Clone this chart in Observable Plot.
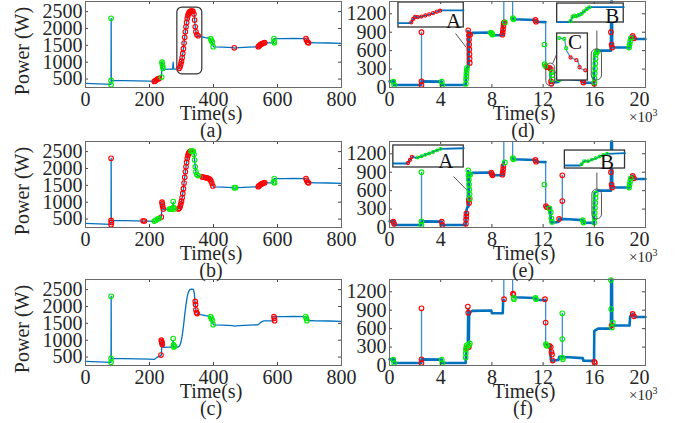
<!DOCTYPE html>
<html><head><meta charset="utf-8">
<script src="https://cdn.jsdelivr.net/npm/d3@7"></script>
<script src="https://cdn.jsdelivr.net/npm/@observablehq/plot@0.6"></script>
<style>
body{margin:0;background:#fff;}
#root{position:relative;width:678px;height:423px;overflow:hidden;font-family:"Liberation Serif","Times New Roman",serif;color:#262626;}
.lbl{position:absolute;transform:translate(-50%,-50%);font-size:20px;white-space:nowrap;line-height:16px;}
.rot{transform:translate(-50%,-50%) rotate(-90deg);}
.exp{position:absolute;font-size:15px;white-space:nowrap;line-height:14px;}
.panel{position:absolute;}
</style></head><body><div id="root"></div>
<script>
// ---------- tick labels ----------
const leftXTicks = [0, 200, 400, 600, 800];
const leftYTicks = [500, 1000, 1500, 2000, 2500];
const rightXTicks = [0, 4, 8, 12, 16, 20];
const rightYTicks = [0, 300, 600, 900, 1200];
const panelNames = ["(a)", "(b)", "(c)", "(d)", "(e)", "(f)"];

// ---------- left column: power trace (time s, power W) ----------
const leftTrace = [[0,370],[40,360],[79,345],[79.8,345],[80.2,2300],[80.6,460],[120,455],[160,448],[200,440],[214,430],[218,450],[222,480],[226,505],[232,520],[235,560],[237.5,560],[238.5,1000],[240,950],[241.5,800],[245,790],[260,792],[272.5,795],[274,1000],[275.5,800],[278,792],[288,795],[294,830],[298,930],[302,1120],[306,1400],[310,1750],[314,2050],[318,2300],[322,2440],[326,2500],[331,2515],[337,2505],[340,2400],[342,2150],[344,1950],[347,1830],[351,1790],[360,1760],[375,1730],[388,1710],[391,1680],[394,1620],[397,1530],[400,1455],[430,1450],[460,1432],[466,1420],[480,1432],[510,1445],[538,1455],[543,1490],[548,1530],[553,1560],[558,1575],[587,1575],[589,1700],[620,1700],[650,1705],[688,1700],[691,1660],[694,1585],[720,1575],[760,1570],[800,1560]];

const redA = [[215,430],[218,450],[222,480],[226,505],[230,520],[293,820],[296,870],[298,950],[300,1030],[302,1130],[304,1260],[306,1400],[308,1570],[310,1740],[312,1900],[314,2050],[316,2180],[318,2300],[320,2380],[322,2440],[324,2480],[327,2505],[330,2515],[333,2512],[336,2505],[339,2430],[341,2250],[343,2050],[345,1900],[348,1820],[352,1785],[465,1425],[540,1460],[543,1490],[546,1515],[549,1535],[552,1555],[556,1570],[560,1578],[689,1700],[691,1650],[694,1590],[697,1575]];
const greenA = [[80,2300],[80,460],[80,330],[238,560],[239,1000],[240,950],[241,880],[242,820],[391,1700],[393,1650],[396,1600],[399,1460],[589,1700],[589,1620],[590,1575]];

const redB = [[80,2300],[80,460],[80,330],[81,400],[180,450],[184,442],[237,560],[239,1000],[240,950],[241,880],[243,800],[290,800],[293,820],[296,870],[298,950],[300,1030],[302,1130],[304,1260],[306,1400],[308,1570],[310,1740],[312,1900],[314,2050],[316,2180],[318,2300],[320,2380],[322,2440],[324,2480],[327,2505],[365,1750],[370,1740],[375,1730],[380,1720],[385,1700],[389,1680],[392,1630],[395,1560],[398,1480],[540,1460],[543,1490],[546,1515],[549,1535],[552,1555],[556,1570],[560,1578],[689,1700],[691,1650],[694,1590],[697,1575]];
const greenB = [[215,440],[220,465],[225,500],[230,520],[262,795],[266,795],[270,795],[274,1020],[275,850],[277,800],[330,2515],[334,2512],[337,2505],[339,2420],[341,2250],[343,2050],[345,1900],[348,1820],[352,1790],[465,1430],[469,1430],[588,1600],[590,1700],[591,1575]];

const redC = [[236,560],[237,1000],[238,960],[239,920],[240,870],[343,2150],[344,2060],[345,1900],[347,1820],[349,1790],[589,1700],[590,1650],[591,1580]];
const greenC = [[80,2300],[80,460],[80,350],[274,1050],[275,860],[276,800],[278,820],[391,1700],[393,1650],[396,1600],[399,1460],[688,1700],[690,1650],[692,1580]];

// annotation box in (a): [t1, t2, p1, p2]
const boxA = [[287, 365, 640, 2620]];

// ---------- right column: power trace (time x10^3 s, power W) ----------
const rightTrace = [[0,100],[0.33,100],[0.35,40],[2.48,40],[2.5,100],[4.08,95],[4.1,40],[5.95,40],[5.97,150],[6.0,250],[6.03,300],[6.08,330],[6.12,330],[6.15,920],[6.17,340],[6.2,400],[6.22,800],[6.3,860],[6.45,890],[7.95,895],[8.0,850],[8.85,850],[8.88,1060],[8.95,1060],[9.3,NaN],[9.62,1130],[9.7,1110],[11.4,1100],[11.45,1070],[12.18,1065],[12.2,NaN],[12.22,350],[12.4,330],[12.55,320],[12.6,100],[12.65,80],[13.2,90],[13.25,140],[14.0,135],[15.1,120],[15.15,80],[15.98,75],[16.0,560],[16.1,575],[16.3,600],[17.3,600],[17.32,1400],[17.38,1400],[17.4,650],[18.75,650],[18.8,800],[19.0,840],[19.1,800],[19.3,790],[20,790]];
// thin spikes: [t, low, high]
const spikesD = [[2.5,40,900],[8.93,1060,1400],[9.62,1130,1400],[12.2,350,1065]];
const spikesEF = [[2.5,40,900],[8.93,1060,1400],[9.62,1130,1400],[12.2,350,1065],[13.5,100,850]];

const greenD = [[0.3,95],[0.36,40],[4.08,95],[4.12,40],[5.97,60],[5.98,130],[6.0,180],[6.01,230],[6.03,280],[6.05,320],[7.9,895],[8.0,880],[8.05,860],[9.02,1060],[9.64,1130],[9.68,1110],[12.1,700],[12.12,380],[12.18,350],[12.68,250],[12.72,200],[12.75,130],[13.25,135],[16.0,80],[16.02,150],[16.04,230],[16.06,310],[16.08,390],[16.1,470],[16.12,540],[16.18,575],[16.25,590],[18.72,650],[18.76,700],[18.8,750],[18.85,800]];
const redD = [[2.5,900],[2.5,100],[2.5,40],[6.15,930],[6.2,850],[6.22,780],[6.23,700],[6.24,620],[6.25,540],[6.26,470],[6.27,400],[6.3,860],[8.82,860],[8.85,900],[8.87,950],[8.9,1000],[8.93,1050],[8.96,1060],[11.4,1100],[11.45,1070],[12.22,350],[12.3,330],[12.5,320],[12.6,300],[12.62,100],[12.65,60],[15.1,120],[15.15,80],[16.0,60],[17.3,900],[17.35,700],[17.4,650],[19.0,840],[19.1,800]];

const redE = [[0.3,95],[0.36,60],[4.08,95],[4.12,40],[5.97,60],[5.98,130],[6.0,180],[6.01,230],[6.2,450],[6.22,400],[7.95,895],[8.0,870],[8.05,850],[8.82,860],[8.85,900],[8.88,950],[8.9,1000],[11.4,1100],[11.45,1070],[12.22,350],[12.3,330],[13.25,140],[13.5,850],[13.5,430],[17.3,900],[17.35,700],[17.4,650],[19.0,840],[19.1,800]];
const greenE = [[2.5,900],[2.5,100],[2.5,40],[6.15,930],[6.17,850],[6.2,780],[6.22,700],[6.24,620],[6.26,540],[6.28,470],[6.3,860],[9.02,1060],[9.64,1130],[9.68,1110],[12.1,700],[12.5,310],[12.6,250],[12.65,150],[12.7,90],[15.1,120],[15.15,80],[16.0,80],[16.02,160],[16.04,240],[16.06,320],[16.08,400],[16.1,480],[16.12,550],[18.72,650],[18.76,700],[18.8,750],[18.85,800]];

const greenF = [[0.3,95],[0.36,40],[4.08,95],[4.12,40],[5.95,130],[5.96,200],[5.97,260],[6.0,300],[6.03,330],[6.22,330],[6.28,360],[9.7,1100],[9.72,1080],[11.4,1100],[11.45,1080],[12.22,350],[12.26,330],[12.3,320],[13.5,850],[13.5,430],[13.5,130],[13.55,100],[17.3,1390],[17.32,920],[17.45,700],[17.38,620]];
const redF = [[2.5,930],[2.5,100],[2.5,40],[6.12,960],[6.15,860],[6.2,300],[6.02,280],[8.95,1080],[9.65,1170],[9.68,1150],[12.15,1080],[12.2,700],[12.5,320],[12.6,300],[12.65,220],[12.7,180],[12.75,80],[16.0,60],[16.05,40],[17.35,650],[19.0,840],[19.1,800]];

// ---------- insets (data coordinates) ----------
// boxes: [t1, t2, p1, p2, label, labelT, labelP]
const insetsD = [[0.7,5.8,977,1384,"A",5.0,1085],[13.1,18.3,1058,1367,"B",17.4,1165],[13.1,15.5,114,879,"C",14.5,735]];
const insetsE = [[0.3,5.8,977,1335,"A",4.4,1085],[13.7,18.4,960,1253,"B",17.0,1060]];
const miniAD = [[0.7,1047],[1.64,1047],[1.88,1123],[2.03,1156],[2.27,1140],[2.81,1172],[3.6,1221],[3.98,1254],[5.78,1254]];
const miniAD_red = [[1.7,1060],[1.85,1115],[2.0,1150],[2.2,1145],[2.5,1155],[2.8,1172],[3.1,1190],[3.4,1210],[3.7,1235],[3.95,1250]];
const miniBD = [[13.1,1063],[14.1,1063],[14.35,1172],[14.6,1160],[15.0,1200],[15.6,1307],[18.3,1307]];
const miniBD_green = [[14.15,1080],[14.3,1150],[14.45,1170],[14.6,1160],[14.8,1180],[15.0,1200],[15.2,1240],[15.4,1275],[15.6,1305]];
const miniCD = [[13.2,809],[13.67,790],[13.83,602],[14.14,488],[14.7,440],[14.9,309],[15.4,277]];
const miniCD_green = [[13.25,805],[13.65,790],[13.8,640]];
const miniCD_red = [[14.15,488],[14.6,445],[14.85,330],[15.3,280]];
const miniAE = [[0.3,1042],[1.4,1042],[1.8,1156],[2.1,1130],[3.0,1200],[4.0,1281],[5.8,1290]];
const miniAE_red = [[1.45,1050],[1.6,1100],[1.75,1150]];
const miniAE_green = [[2.2,1140],[2.5,1160],[2.8,1185],[3.1,1205],[3.4,1230],[3.7,1255],[4.0,1280]];
const miniBE = [[13.75,1009],[14.9,1009],[15.3,1091],[15.5,1075],[17.0,1200],[18.4,1210]];
const miniBE_green = [[15.0,1030],[15.2,1080],[15.5,1080],[15.8,1105],[16.1,1130],[16.4,1155],[16.7,1180],[17.0,1200]];
// leader lines [t1,p1,t2,p2]
const leadersD = [[5.16,879,6.0,651],[16.2,928,16.2,602],[13.1,560,12.75,390],[13.1,300,12.95,230]];
const leadersE = [[5.0,830,6.0,618],[16.2,895,16.2,618]];
// highlight rounded boxes [t1,t2,p1,p2]
const highlightD = [[12.25,12.95,20,390],[15.8,16.6,114,620]];
const highlightE = [[15.85,16.6,130,618]];

// ---------- drawing ----------
const BLUE = "#0072BD", RED = "#ff0000", GREEN = "#00ee00", AX = "#262626";
const FONT = "Liberation Serif, Times New Roman, serif";
const FW = 256, FH = 86, ML = 50, MR = 25, MT = 5, MB = 30;
const root = document.getElementById("root");
const px = d => d[0], py = d => d[1];
const plain = d => String(d);

function dots(arr, color, r = 2.3) {
  return Plot.dot(arr, {x: px, y: py, r, stroke: color, fill: "none", strokeWidth: 1.1});
}
function frameMarks(xt, yt, shiftLast) {
  const main = shiftLast ? xt.slice(0, -1) : xt;
  const marks = [
    Plot.ruleX(xt, {x: d => d, insetTop: FH - 3, stroke: "#444"}),
    Plot.ruleX(xt, {x: d => d, insetBottom: FH - 3, stroke: "#444"}),
    Plot.ruleY(yt, {y: d => d, insetRight: FW - 3, stroke: "#444"}),
    Plot.ruleY(yt, {y: d => d, insetLeft: FW - 3, stroke: "#444"}),
    Plot.axisX(main, {tickSize: 0, tickPadding: 4, fontSize: 20, fill: AX, fontFamily: FONT, tickFormat: plain}),
    Plot.axisY(yt, {tickSize: 0, tickPadding: 3, fontSize: 20, fill: AX, fontFamily: FONT, tickFormat: plain}),
    Plot.frame({stroke: "#6a6a6a", strokeWidth: 1})
  ];
  if (shiftLast) marks.push(Plot.axisX(xt.slice(-1), {tickSize: 0, tickPadding: 4, dx: -6, fontSize: 20, fill: AX, fontFamily: FONT, tickFormat: plain}));
  return marks;
}
function panel(left, top, xd, yd, xt, yt, marks, shiftLast = false) {
  const svg = Plot.plot({
    width: ML + FW + MR, height: MT + FH + MB,
    marginLeft: ML, marginRight: MR, marginTop: MT, marginBottom: MB,
    x: {domain: xd, label: null}, y: {domain: yd, label: null},
    style: {background: "transparent", overflow: "visible", fontFamily: FONT, fontSize: "20px", color: AX},
    marks: [...marks, ...frameMarks(xt, yt, shiftLast)]
  });
  svg.classList.add("panel");
  svg.style.left = (left - ML) + "px";
  svg.style.top = (top - MT) + "px";
  root.appendChild(svg);
}
function label(text, x, y, cls = "lbl") {
  const d = document.createElement("div");
  d.className = cls; d.innerHTML = text;
  d.style.left = x + "px"; d.style.top = y + "px";
  root.appendChild(d);
}

const rows = [1, 141, 279];
const LX = 85, RX = 389;
const leftDomY = [250, 2800], rightDomY = [0, 1400];

function leftMarks(red, green, extra = []) {
  return [...extra,
    Plot.line(leftTrace, {x: px, y: py, stroke: BLUE, strokeWidth: 1.3}),
    dots(red, RED), dots(green, GREEN)];
}
function rightMarks(spikes, red, green, extra = [], over = []) {
  return [...extra,
    Plot.ruleX(spikes, {x: d => d[0], y1: d => d[1], y2: d => d[2], stroke: "#3a8fd0", strokeWidth: 1.3}),
    Plot.line(rightTrace, {x: px, y: py, stroke: BLUE, strokeWidth: 2.6}),
    dots(red, RED), dots(green, GREEN), ...over];
}
function insetMarks(boxes, leaders, highlights, minis) {
  return [
    Plot.rect(highlights, {x1: d => d[0], x2: d => d[1], y1: d => d[2], y2: d => d[3], rx: 5, fill: "none", stroke: "#555", strokeWidth: 1}),
    Plot.link(leaders, {x1: d => d[0], y1: d => d[1], x2: d => d[2], y2: d => d[3], stroke: "#555", strokeWidth: 1}),
    Plot.rect(boxes, {x1: d => d[0], x2: d => d[1], y1: d => d[2], y2: d => d[3], fill: "white", stroke: "#333", strokeWidth: 1.3}),
    ...minis,
    Plot.text(boxes, {x: d => d[5], y: d => d[6], text: d => d[4], fontSize: 21, fill: "#111", fontFamily: FONT})
  ];
}

// (a)(b)(c)
panel(LX, rows[0], [0, 800], leftDomY, leftXTicks, leftYTicks,
  leftMarks(redA, greenA, [Plot.rect(boxA, {x1: d => d[0], x2: d => d[1], y1: d => d[2], y2: d => d[3], rx: 5, fill: "none", stroke: "#333", strokeWidth: 1.2})]));
panel(LX, rows[1], [0, 800], leftDomY, leftXTicks, leftYTicks, leftMarks(redB, greenB));
panel(LX, rows[2], [0, 800], leftDomY, leftXTicks, leftYTicks, leftMarks(redC, greenC));

// (d)
panel(RX, rows[0], [0, 20], rightDomY, rightXTicks, rightYTicks,
  rightMarks(spikesD, redD, greenD, [], insetMarks(insetsD, leadersD, highlightD, [
    Plot.line(miniAD, {x: px, y: py, stroke: BLUE, strokeWidth: 1.8}), dots(miniAD_red, RED, 1.6),
    Plot.line(miniBD, {x: px, y: py, stroke: BLUE, strokeWidth: 1.8}), dots(miniBD_green, GREEN, 1.6),
    Plot.line(miniCD, {x: px, y: py, stroke: "#3a8fd0", strokeWidth: 1.2}), dots(miniCD_green, GREEN, 1.6), dots(miniCD_red, RED, 1.6)
  ])), true);
// (e)
panel(RX, rows[1], [0, 20], rightDomY, rightXTicks, rightYTicks,
  rightMarks(spikesEF, redE, greenE, [], insetMarks(insetsE, leadersE, highlightE, [
    Plot.line(miniAE, {x: px, y: py, stroke: BLUE, strokeWidth: 1.8}), dots(miniAE_red, RED, 1.6), dots(miniAE_green, GREEN, 1.4),
    Plot.line(miniBE, {x: px, y: py, stroke: BLUE, strokeWidth: 1.8}), dots(miniBE_green, GREEN, 1.4)
  ])), true);
// (f)
panel(RX, rows[2], [0, 20], rightDomY, rightXTicks, rightYTicks, rightMarks(spikesEF, redF, greenF), true);

// text labels
rows.forEach((t, i) => {
  label("Power (W)", 22, t + 50, "lbl rot");
  label("Time(s)", 211, t + 112);
  label("Time(s)", 524, t + 112);
  label(panelNames[i], 211, t + 129);
  label(panelNames[i + 3], 523, t + 129);
  label("×10<sup style='font-size:10px;vertical-align:6px'>3</sup>", 629, t + 105, "exp");
});
</script></body></html>
